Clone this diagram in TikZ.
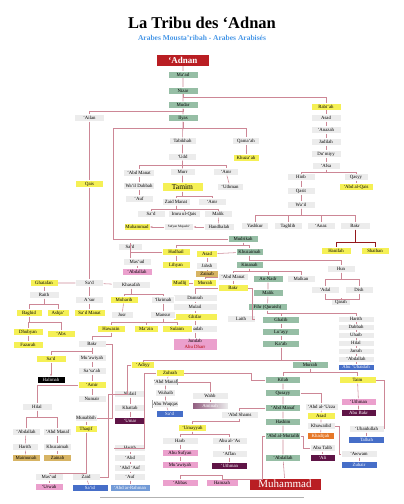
\documentclass[tikz,border=0pt]{standalone}
\usepackage{fontspec}
\setmainfont{Liberation Serif}
\usetikzlibrary{arrows.meta}
\definecolor{lnred}{RGB}{205,135,150}
\definecolor{subblue}{RGB}{70,150,230}
\definecolor{boxgray}{RGB}{236,236,236}
\definecolor{boxgreen}{RGB}{150,190,165}
\definecolor{boxyel}{RGB}{245,240,85}
\definecolor{boxpink}{RGB}{235,160,205}
\definecolor{boxpurp}{RGB}{95,20,70}
\definecolor{boxblue}{RGB}{70,110,200}
\definecolor{boxlblue}{RGB}{115,155,215}
\definecolor{boxtan}{RGB}{215,180,100}
\definecolor{boxorng}{RGB}{230,120,40}
\definecolor{boxred}{RGB}{185,30,35}
\tikzset{
  box/.style={draw=black!35, line width=0.3pt, double=white, double distance=0.35pt,
    minimum height=7pt, minimum width=28pt,
    inner sep=0.5pt, font=\fontsize{4.8}{5.5}\selectfont},
  gbox/.style={box, fill=boxgray},
  grn/.style={box, fill=boxgreen},
  yel/.style={box, fill=boxyel},
  pnk/.style={box, fill=boxpink},
  prp/.style={box, fill=boxpurp, text=white},
  blu/.style={box, fill=boxblue, text=white},
  lbl/.style={box, fill=boxlblue, text=white},
  tanb/.style={box, fill=boxtan},
  org/.style={box, fill=boxorng, text=white},
  blk/.style={box, fill=black, text=white},
  lst/.style={gbox, minimum height=6pt, minimum width=36pt},
  ln/.style={draw=lnred, line width=0.55pt},
  skip/.style={ln, -{Stealth[length=2.5pt,width=2pt]}},
}
\begin{document}
\begin{tikzpicture}[x=1pt,y=-1pt]
  \useasboundingbox (0,0) rectangle (404,504);
  %% Title
  \node[font=\bfseries\fontsize{16.5}{18}\selectfont] (title) at (202,23) {La Tribu des ‘Adnan};
  \node[font=\bfseries\fontsize{7.5}{8}\selectfont, text=subblue] (subtitle) at (202,38) {Arabes Mousta’ribah - Arabes Arabisés};
  %% Trunk
  \node[box, fill=boxred, text=white, minimum width=53pt, minimum height=12pt,
        font=\bfseries\fontsize{9}{10}\selectfont] (adnan) at (183,60) {‘Adnan};
  \node[grn, minimum width=30pt] (maad)  at (183,74.5) {Ma‘ad};
  \node[grn, minimum width=30pt] (nizar) at (183,90.5) {Nizar};
  \node[grn, minimum width=30pt] (mudar) at (183,105)  {Mudar};
  \node[grn, minimum width=30pt] (ilyas) at (183,118)  {Ilyas};
  \node[gbox, minimum width=30pt] (ailan) at (89.5,118) {‘Ailan};
  \node[yel] (qais) at (89.5,184) {Qais};
  %% Rabi'ah
  \node[yel, minimum width=30pt] (rabiah) at (326,106.5) {Rabi‘ah};
  \node[gbox, minimum width=30pt] (asad1)   at (326,118) {Asad};
  \node[gbox, minimum width=30pt] (anazah)  at (326,130) {‘Anazah};
  \node[gbox, minimum width=30pt] (jadilah) at (326,142) {Jadilah};
  \node[gbox, minimum width=30pt] (dumiyy)  at (326,154) {Du‘miyy};
  \node[gbox] (afsa)  at (326,166) {‘Afsa};
  \node[gbox] (hinb)  at (301,177) {Hinb};
  \node[gbox, minimum width=24pt] (qasyy) at (356,177) {Qasyy};
  \node[yel, minimum width=34pt] (abdqais) at (356,187) {‘Abd al-Qais};
  \node[gbox] (qasit) at (301,191) {Qasit};
  \node[gbox] (wail)  at (301,205) {Wa’il};
  \node[gbox, minimum width=27pt] (yashkur) at (255,226) {Yashkur};
  \node[gbox] (taghlib) at (288,226) {Taghlib};
  \node[gbox] (anaz)    at (321,226) {‘Anaz};
  \node[gbox, minimum width=30pt] (bakra) at (355,226) {Bakr};
  \node[yel, minimum width=30pt] (hanifah) at (336,251) {Hanifah};
  \node[yel] (shaiban) at (375,251) {Shaiban};
  %% Tabikhah
  \node[gbox, minimum width=27pt] (tabikhah) at (182.5,141) {Tabikhah};
  \node[gbox, minimum width=27pt] (qamaah)   at (246,141)   {Qama‘ah};
  \node[gbox] (udd) at (182.5,157) {‘Udd};
  \node[yel, minimum width=26pt] (khuzaah) at (246,158) {Khuza‘ah};
  \node[gbox, minimum width=31pt] (abdmanata) at (139,173) {‘Abd Manat};
  \node[gbox, minimum width=25pt] (murr) at (182.5,172) {Murr};
  \node[gbox, minimum width=25pt] (amra) at (226,172) {‘Amr};
  \node[gbox, minimum width=31pt] (waildub) at (139,186) {Wa’il Dubbah};
  \node[gbox] (aufa) at (139,199) {‘Auf};
  \node[yel, minimum width=41pt, minimum height=9pt, font=\fontsize{7.5}{8}\selectfont] (tamim) at (182.5,187) {Tamim};
  \node[gbox, minimum width=26pt] (uthmana) at (230,187) {‘Uthman};
  \node[gbox] (zaidmanat) at (176,202) {Zaid Manat};
  \node[gbox] (amrb) at (212,202) {‘Amr};
  \node[gbox] (sada) at (151,214) {Sa‘d};
  \node[gbox, minimum width=32pt] (imru) at (184,214) {Imru ul-Qais};
  \node[gbox] (malika) at (218,214) {Malik};
  \node[gbox, minimum width=30pt] (handhalah) at (219,227) {Handhalah};
  \node[gbox, minimum width=29pt, font=\fontsize{3.3}{4}\selectfont] (sufyan) at (179,227) {Sufyan Mujashi‘};
  \node[yel, minimum width=26pt] (muhammada) at (137,227) {Muhammad};
  %% Mudrikah
  \node[grn, minimum width=30pt] (mudrikah) at (243,239) {Mudrikah};
  \node[yel] (hudhail) at (176,252) {Hudhail};
  \node[yel] (lihyan)  at (176,265) {Lihyan};
  \node[gbox, minimum width=24pt] (sadb) at (130,247) {Sa‘d};
  \node[gbox, minimum width=28pt] (masuda) at (137,262) {Mas‘ud};
  \node[pnk, minimum width=30pt] (abdallaha) at (137,272) {‘Abdallah};
  \node[grn, minimum width=27pt] (khuzaimah) at (249.5,252) {Khuzaimah};
  \node[grn, minimum width=27pt] (kinanah)   at (249.5,265) {Kinanah};
  \node[yel, minimum width=21pt] (asadb) at (207,254) {Asad};
  \node[gbox, minimum width=21pt] (jahsh) at (207,266) {Jahsh};
  \node[tanb, minimum width=23pt] (zainaba) at (207,274) {Zainab};
  \node[gbox] (hun)  at (341,269) {Hun};
  \node[gbox] (adal) at (325,290) {‘Adal};
  \node[gbox] (dish) at (359,290) {Dish};
  \node[gbox, minimum width=19pt] (qarah) at (341,302) {Qarah};
  \node[gbox, minimum width=30pt] (abdmanatb) at (233,277) {‘Abd Manat};
  \node[grn, minimum width=30pt] (nadr) at (268,279) {An-Nadr};
  \node[gbox] (malkan) at (301,279) {Malkan};
  \node[yel, minimum width=18pt] (mudlij) at (180,283) {Mudlij};
  \node[yel, minimum width=23pt] (murraha) at (205,283) {Murrah};
  \node[yel, minimum width=30pt] (bakrb) at (233,288) {Bakr};
  \node[grn, minimum width=30pt] (malikb) at (268,293) {Malik};
  \node[grn, minimum width=39pt] (fihr) at (267.5,307) {Fihr (Quraish)};
  \node[gbox, minimum width=44pt] (damrah) at (195,298) {Damrah};
  \node[gbox, minimum width=44pt] (mulail) at (195,307) {Mulail};
  \node[yel, minimum width=44pt] (ghifar) at (195,317) {Ghifar};
  \node[gbox, minimum width=44pt] (junadah) at (195,329) {Junadah};
  \node[pnk, minimum width=44pt, minimum height=12pt, align=center] (jundab) at (195,344) {Jundab\\\textcolor{red!70!black}{Abu Dharr}};
  \node[gbox] (laith) at (241,319) {Laith};
  \node[grn, minimum width=37pt] (ghalib) at (281,320) {Ghalib};
  \node[grn, minimum width=37pt] (luayy)  at (281,332) {Lu’ayy};
  \node[grn, minimum width=37pt] (kaab)   at (281,344) {Ka‘ab};
  \node[lst] (haritha)  at (356,319) {Harith};
  \node[lst] (dabbah)   at (356,327) {Dabbah};
  \node[lst] (uhaib)    at (356,335) {Uhaib};
  \node[lst] (hilala)   at (356,343) {Hilal};
  \node[lst] (jarrah)   at (356,351) {Jarrah};
  \node[lst] (abdallahb) at (356,359) {‘Abdallah};
  \node[lst, fill=boxblue, text=white] (abuubaidah) at (356,367) {Abu ‘Ubaidah};
  \node[grn, minimum width=36pt] (murrahb) at (310,365) {Murrah};
  %% Qais
  \node[yel] (ghatafan) at (44,283) {Ghatafan};
  \node[gbox] (sadc) at (89.5,283) {Sa‘d};
  \node[gbox, minimum width=38pt] (khasafah) at (131,285) {Khasafah};
  \node[gbox, minimum width=30pt] (raith) at (44,295) {Raith};
  \node[gbox] (asur) at (89.5,300) {A‘sur};
  \node[yel, minimum width=31pt] (sadmanat) at (89.5,313) {Sa‘d Manat};
  \node[yel, minimum width=26pt] (baghid) at (29,313) {Baghid};
  \node[yel, minimum width=22pt] (ashja) at (58,313) {Ashja‘};
  \node[yel, minimum width=30pt] (dhubyan) at (28,332) {Dhubyan};
  \node[yel] (abs) at (61,334) {‘Abs};
  \node[yel, minimum width=30pt] (fazarah) at (28,345) {Fazarah};
  \node[yel] (muharib) at (124,300) {Muharib};
  \node[gbox, minimum width=23pt] (ikrimah) at (163,300) {‘Ikrimah};
  \node[gbox, minimum width=22pt] (jusr) at (122,315) {Jusr};
  \node[gbox, minimum width=25pt] (mansur) at (163,315) {Mansur};
  \node[yel] (hawazin) at (111,329) {Hawazin};
  \node[yel, minimum width=24pt] (mazin) at (146,329) {Ma‘zin};
  \node[yel, minimum width=30pt] (sulaim) at (177,329) {Sulaim};
  \node[gbox] (bakrc) at (92,344) {Bakr};
  \node[yel, minimum width=30pt] (sadd) at (51,359) {Sa‘d};
  \node[gbox] (muawiyaha) at (92,358) {Mu‘awiyah};
  \node[blk] (halimah) at (51,380) {Halimah};
  \node[gbox] (sasaah) at (92,371) {Sa‘sa‘ah};
  \node[yel] (amir) at (92,385) {‘Amir};
  \node[gbox] (numair) at (92,399) {Numair};
  \node[gbox, minimum width=30pt] (hilalb) at (37,407) {Hilal};
  \node[gbox, minimum width=22pt] (munabbih) at (86,418) {Munabbih};
  \node[yel, minimum width=22pt] (thaqif) at (86,429) {Thaqif};
  \node[gbox] (abdallahc) at (26,432) {‘Abdallah};
  \node[gbox] (abdmanafa) at (57.5,432) {‘Abd Manaf};
  \node[gbox, minimum width=26pt] (harithb) at (25,447) {Harith};
  \node[gbox] (khuzaimahb) at (57.5,447) {Khuzaimah};
  \node[tanb] (maimunah) at (26,458) {Maimunah};
  \node[tanb] (zainabb) at (57.5,458) {Zainab};
  \node[gbox] (masudb) at (49,477) {Mas‘ud};
  \node[pnk] (urwah) at (49,487) {‘Urwah};
  %% 'Adiyy and Zuhrah
  \node[yel, minimum width=23pt] (adiyy) at (143,365) {‘Adiyy};
  \node[yel] (zuhrah) at (170,373) {Zuhrah};
  \node[gbox, minimum width=31pt] (nufail)  at (130,394) {Nufail};
  \node[gbox, minimum width=31pt] (khattab) at (130,408) {Khattab};
  \node[prp, minimum width=31pt] (umar) at (130,421) {‘Umar};
  \node[gbox] (zaid) at (86,477) {Zaid};
  \node[blu, minimum width=36pt] (said) at (90,488) {Sa‘id};
  \node[gbox, minimum width=31pt] (harithc) at (130,448) {Harith};
  \node[gbox, minimum width=31pt] (abd) at (130,458) {‘Abd};
  \node[gbox, minimum width=31pt] (abdauf) at (130,468) {‘Abd ‘Auf};
  \node[gbox, minimum width=31pt] (aufb) at (130,477) {‘Auf};
  \node[lbl, minimum width=40pt] (abdrahman) at (130,488) {‘Abd ar-Rahman};
  \node[gbox, minimum width=20pt] (abdmanafb) at (165.5,382) {‘Abd Manaf};
  \node[gbox, minimum width=20pt] (wuhaib) at (165.5,393) {Wuhaib};
  \node[gbox, minimum width=20pt] (abuwaqqas) at (165.5,404) {Abu Waqqas};
  \node[blu, minimum width=27pt] (sade) at (169.5,414) {Sa‘d};
  \node[gbox, minimum width=36pt] (wahb) at (210,396) {Wahb};
  \node[box, minimum width=36pt, left color=boxpurp!70, right color=boxgray, text=white] (aminah) at (210,406) {Aminah};
  %% Quraish
  \node[grn, minimum width=35pt] (kilab)  at (283,380) {Kilab};
  \node[grn, minimum width=35pt] (qusayy) at (283,393) {Qusayy};
  \node[grn, minimum width=35pt] (abdmanafc) at (283,408) {‘Abd Manaf};
  \node[grn, minimum width=35pt] (hashim) at (283,422) {Hashim};
  \node[grn, minimum width=35pt] (abdmuttalib) at (283,436) {‘Abd al-Muttalib};
  \node[grn, minimum width=35pt] (abdallahd) at (283,458) {‘Abdallah};
  \node[box, fill=boxred, text=white, minimum width=72pt, minimum height=12pt,
        font=\fontsize{11}{12}\selectfont] (muhammad) at (285,484) {Muhammad};
  \node[gbox, minimum width=37pt] (abdshams) at (239.5,415) {‘Abd Shams};
  \node[yel] (umayyah) at (192.5,428) {‘Umayyah};
  \node[gbox, minimum width=36pt] (harb) at (180,441) {Harb};
  \node[gbox, minimum width=35pt] (abuas) at (229.5,441) {Abu al-‘As};
  \node[pnk, minimum width=36pt] (abusufyan) at (180,453) {Abu Sufyan};
  \node[gbox, minimum width=35pt] (affan) at (229.5,454) {‘Affan};
  \node[pnk, minimum width=36pt] (muawiyahb) at (180,465) {Mu‘awiyah};
  \node[prp, minimum width=36pt] (uthmanb) at (229.5,466) {‘Uthman};
  \node[pnk, minimum width=36pt] (abbas) at (180,483) {‘Abbas};
  \node[pnk, minimum width=32pt] (hamzah) at (222,483) {Hamzah};
  \node[gbox, minimum width=33pt] (abduzza) at (321.5,407) {‘Abd al-‘Uzza};
  \node[yel] (asadc) at (321,416) {Asad};
  \node[gbox] (khuwailid) at (321,426) {Khuwailid};
  \node[org, minimum width=27pt] (khadijah) at (320.5,436) {Khadijah};
  \node[gbox, minimum width=25pt] (abutalib) at (322.5,448) {Abu Talib};
  \node[prp, minimum width=25pt] (ali) at (322.5,458) {‘Ali};
  \node[yel, minimum width=37pt] (taim) at (357.5,380) {Taim};
  \node[pnk, minimum width=35pt] (uthmanc) at (358.5,402) {‘Uthman};
  \node[prp, minimum width=35pt] (abubakr) at (358.5,413) {Abu Bakr};
  \node[gbox, minimum width=35pt] (ubaidullah) at (366.5,429) {‘Ubaidullah};
  \node[blu, minimum width=36pt] (talhah) at (366.5,440) {Talhah};
  \node[gbox, minimum width=36pt] (awwam) at (359,454) {‘Awwam};
  \node[blu, minimum width=36pt] (zubair) at (359,465) {Zubair};
  %% Connectors
  \draw[ln] (adnan) -- (maad) -- (nizar) -- (mudar) -- (ilyas) -- (tabikhah) -- (udd) -- (murr) -- (tamim);
  \draw[ln] (nizar.south) -- ++(0,3) -| (rabiah.north);
  \draw[ln] (mudar.south) -- ++(0,3) -| (ailan.north);
  \draw[ln] (ailan) -- (qais) -- (sadc);
  \draw[ln] (ilyas.south) -- ++(0,7) -| (qamaah.north);
  \coordinate (mudbend) at (113,239);
  \draw[ln] (ilyas.south) -- ++(0,7) -| (mudbend) -- (mudrikah.west);
  \draw[ln] (qamaah) -- (khuzaah);
  \draw[ln] (udd.south) -- ++(0,5) -| (abdmanata.north);
  \draw[ln] (udd.south) -- ++(0,5) -| (amra.north);
  \draw[ln] (abdmanata) -- (waildub) -- (aufa);
  \draw[ln] (amra) -- (uthmana);
  \draw[ln] (tamim.south) -- ++(0,5) -| (zaidmanat.north);
  \draw[ln] (tamim.south) -- ++(0,5) -| (amrb.north);
  \draw[ln] (zaidmanat.south) -- ++(0,4) -| (sada.north);
  \draw[ln] (zaidmanat.south) -- ++(0,4) -| (imru.north);
  \draw[ln] (zaidmanat.south) -- ++(0,4) -| (malika.north);
  \draw[ln] (malika) -- (handhalah);
  \draw[skip] (handhalah) -- (sufyan);
  \draw[skip] (sufyan) -- (muhammada);
  \draw[ln] (rabiah) -- (asad1) -- (anazah) -- (jadilah) -- (dumiyy) -- (afsa);
  \draw[ln] (afsa.south) -- ++(0,3) -| (hinb.north);
  \draw[ln] (afsa.south) -- ++(0,3) -| (qasyy.north);
  \draw[ln] (qasyy) -- (abdqais);
  \draw[ln] (hinb) -- (qasit) -- (wail);
  \foreach \c in {yashkur,taghlib,anaz,bakra}
    \draw[ln] (wail.south) -- ++(0,7) -| (\c.north);
  \draw[ln, draw=boxred!80!black, line width=0.8pt] (bakra.south) -- ++(0,13) -| (hanifah.north);
  \draw[ln, draw=boxred!80!black, line width=0.8pt] (bakra.south) -- ++(0,13) -| (shaiban.north);
  %% Mudrikah lines
  \draw[ln] (mudrikah.south) -- ++(0,3) -| (hudhail.north);
  \draw[ln] (mudrikah.south) -- ++(0,3) -| (khuzaimah.north);
  \draw[ln] (hudhail) -- (lihyan);
  \draw[ln] (hudhail.west) -| (sadb.north);
  \draw[ln] (sadb) -- (sadb |- masuda.north);
  \draw[ln] (masuda) -- (abdallaha);
  \draw[ln] (khuzaimah) -- (asadb);
  \draw[ln] (asadb) -- (jahsh) -- (zainaba);
  \draw[ln] (khuzaimah) -- (kinanah);
  \draw[ln] (khuzaimah.south) -- ++(0,4.5) -| (hun.north);
  \draw[ln] (hun.south) -- ++(0,7) -| (adal.north);
  \draw[ln] (hun.south) -- ++(0,7) -| (dish.north);
  \draw[ln] (adal.south) -- ++(0,6) -| (qarah.north);
  \draw[ln] (dish.south) -- ++(0,6) -| (qarah.north);
  \draw[ln] (kinanah.south) -- ++(0,3) -| (abdmanatb.north);
  \draw[ln] (kinanah.south) -- ++(0,3) -| (nadr.north);
  \draw[ln] (kinanah.south) -- ++(0,3) -| (malkan.north);
  \draw[ln] (abdmanatb.west) -| (murraha.north);
  \draw[ln] (murraha) -- (mudlij);
  \draw[ln] (abdmanatb) -- (bakrb);
  \draw[ln] (bakrb.west) -| (damrah.north);
  \draw[ln] (bakrb.east) -- ++(4,0) |- (laith.east);
  \draw[ln] (damrah) -- (mulail) -- (ghifar) -- (junadah) -- (jundab);
  \draw[ln] (nadr) -- (malikb) -- (fihr);
  \draw[ln] (fihr.south) -- ++(0,3) -| (ghalib.north);
  \draw[ln] (fihr.south) -- ++(0,3) -| (haritha.north);
  \draw[ln] (ghalib) -- (luayy) -- (kaab);
  \draw[ln] (haritha) -- (dabbah) -- (uhaib) -- (hilala) -- (jarrah) -- (abdallahb) -- (abuubaidah);
  \draw[ln] (kaab.south) -- ++(0,13) -| (adiyy.north);
  \draw[ln] (kaab.south) -- ++(0,13) -| (murrahb.north);
  \draw[ln] (murrahb.south) -- ++(0,3.5) -| (kilab.north);
  \draw[ln] (murrahb.south) -- ++(0,3.5) -| (taim.north);
  %% Qais lines
  \draw[ln] (ghatafan) -- (sadc) -- (khasafah);
  \draw[ln] (ghatafan) -- (raith);
  \draw[ln] (raith.south) -- ++(0,6) -| (baghid.north);
  \draw[ln] (raith.south) -- ++(0,6) -| (ashja.north);
  \draw[ln] (baghid.south) -- ++(0,6) -| (dhubyan.north);
  \draw[ln] (baghid.south) -- ++(0,6) -| (abs.north);
  \draw[ln] (dhubyan) -- (fazarah);
  \draw[ln] (sadc) -- (asur) -- (sadmanat);
  \draw[ln] (khasafah.south) -- ++(0,6) -| (muharib.north);
  \draw[ln] (khasafah.south) -- ++(0,6) -| (ikrimah.north);
  \draw[ln] (muharib) -- (jusr);
  \draw[ln] (ikrimah) -- (mansur);
  \draw[ln] (mansur.south) -- ++(0,4) -| (hawazin.north);
  \draw[ln] (mansur.south) -- ++(0,4) -| (mazin.north);
  \draw[ln] (mansur.south) -- ++(0,4) -| (sulaim.north);
  \draw[ln] (hawazin.south) -- ++(0,4) -| (bakrc.north);
  \draw[ln] (bakrc.south) -- ++(0,4) -| (sadd.north);
  \draw[ln] (bakrc) -- (muawiyaha) -- (sasaah) -- (amir) -- (numair);
  \draw[ln] (bakrc.east) -- ++(6,0) |- (munabbih.east);
  \draw[skip] (sadd) -- (halimah);
  \draw[ln] (amir.west) -| (hilalb.north);
  \draw[ln] (hilalb.south) -- ++(0,7) -| (abdallahc.north);
  \draw[ln] (hilalb.south) -- ++(0,7) -| (abdmanafa.north);
  \draw[ln] (abdallahc) -- (harithb) -- (maimunah);
  \draw[ln] (abdmanafa) -- (khuzaimahb) -- (zainabb);
  \draw[ln] (munabbih) -- (thaqif);
  \draw[ln] (thaqif.south) -- ++(0,41) -| (masudb.north);
  \draw[ln] (masudb) -- (urwah);
  %% Quraish lines
  \draw[ln] (adiyy.west) -- ++(-4,0) |- (nufail.west);
  \draw[ln] (nufail) -- (khattab) -- (umar);
  \draw[ln] (nufail.west) -- ++(-6,0) |- (zaid.east);
  \draw[ln] (zaid) -- (said);
  \draw[ln] (zuhrah.west) -- ++(-12,0) |- (harithc.west);
  \draw[ln] (harithc) -- (abd) -- (abdauf) -- (aufb) -- (abdrahman);
  \draw[ln] (zuhrah) -- (abdmanafb) -- (wuhaib) -- (abuwaqqas) -- (sade);
  \draw[ln] (abdmanafb.east) -| (wahb.north);
  \draw[ln] (wahb) -- (aminah);
  \draw[ln] (kilab.west) -- ++(-14,0) |- (zuhrah.east);
  \draw[ln] (kilab) -- (qusayy) -- (abdmanafc) -- (hashim) -- (abdmuttalib) -- (abdallahd) -- (muhammad);
  \draw[ln] (qusayy.east) -| (abduzza.north);
  \draw[ln] (abduzza) -- (asadc) -- (khuwailid) -- (khadijah);
  \draw[ln] (khuwailid.east) -- ++(4,0) |- (awwam.west);
  \draw[ln] (awwam) -- (zubair);
  \draw[ln] (abdmanafc.west) -| (abdshams.north);
  \draw[ln] (abdshams.south) -- ++(0,3) -| (umayyah.north);
  \draw[ln] (umayyah.south) -- ++(0,3) -| (harb.north);
  \draw[ln] (umayyah.south) -- ++(0,3) -| (abuas.north);
  \draw[ln] (harb) -- (abusufyan) -- (muawiyahb);
  \draw[ln] (abuas) -- (affan) -- (uthmanb);
  \draw[ln] (abdmuttalib.east) -- ++(3,0) |- (abutalib.west);
  \draw[ln] (abutalib) -- (ali);
  \draw[ln] (abdmuttalib.west) -- ++(-3,0) |- (hamzah.north);
  \draw[ln] (hamzah.north) -- ++(0,-4) -| (abbas.north);
  \draw[ln] (taim) -- (uthmanc) -- (abubakr);
  \draw[ln] (taim.east) -- ++(8,0) |- (ubaidullah.east);
  \draw[ln] (ubaidullah) -- (talhah);
  %% Bottom rule
  \draw[black!30, line width=0.4pt] (100,497) -- (304,497);
\end{tikzpicture}
\end{document}
